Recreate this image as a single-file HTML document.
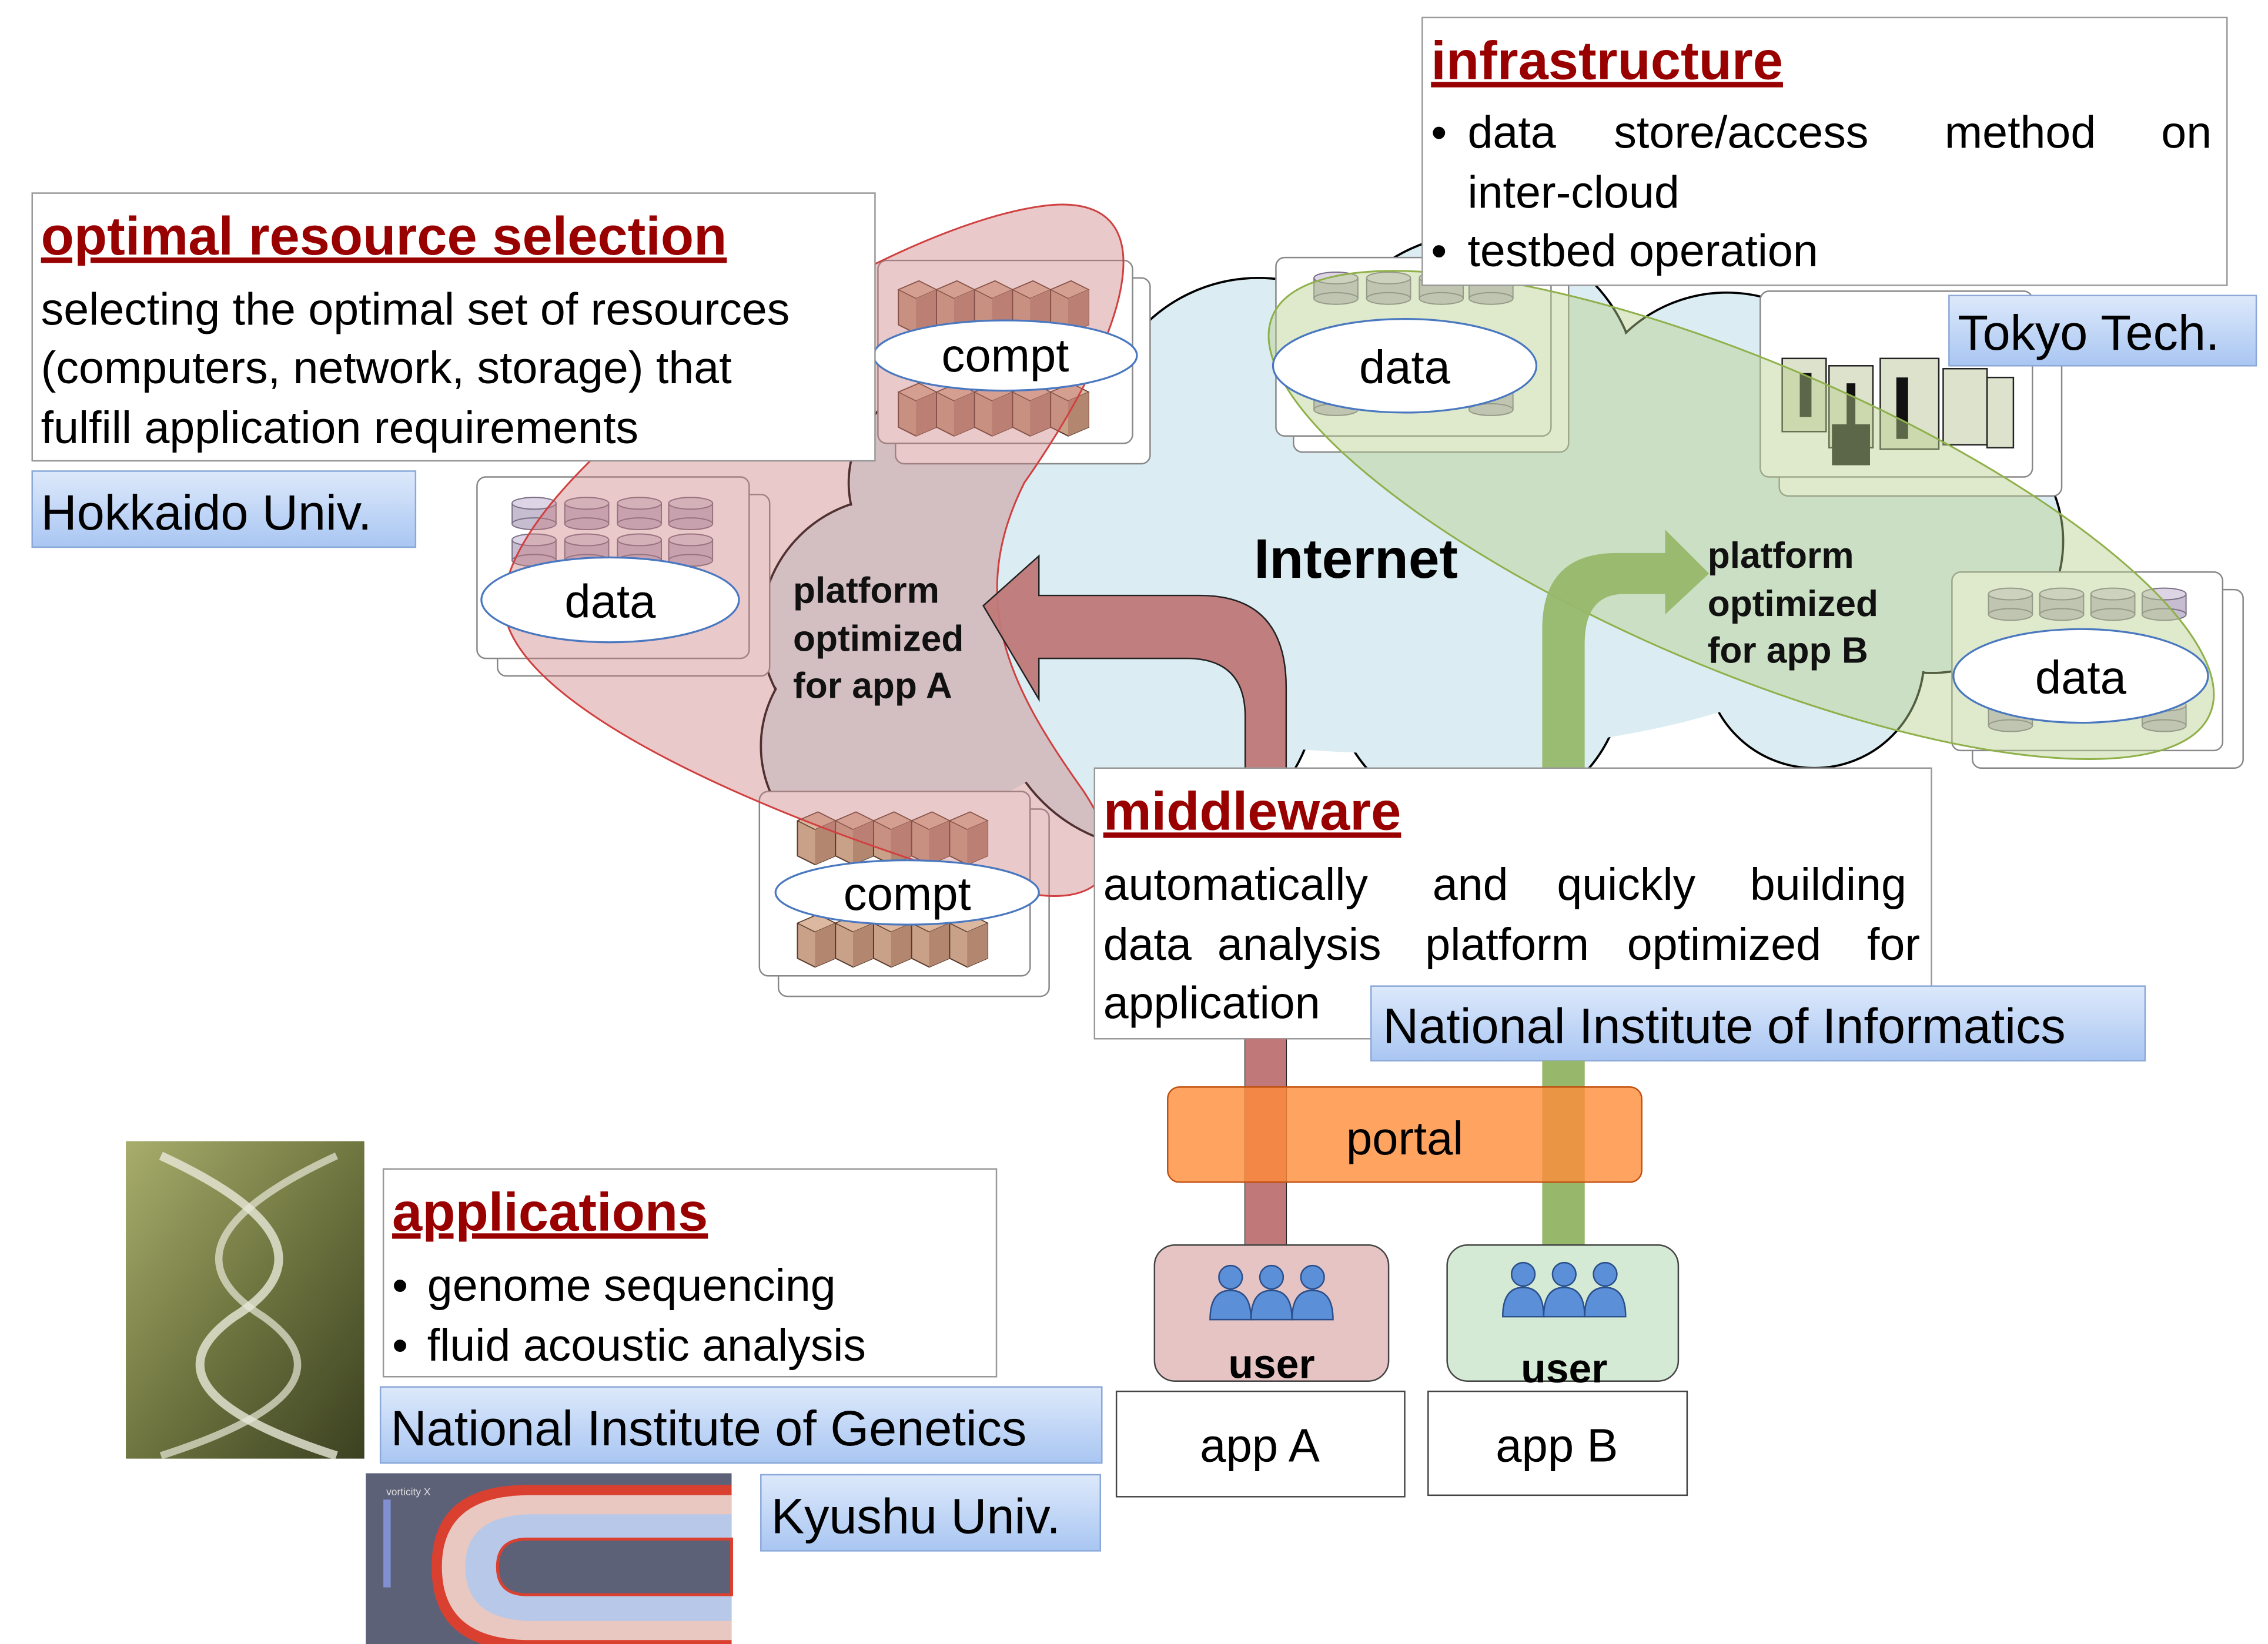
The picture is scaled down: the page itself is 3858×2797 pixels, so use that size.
<!DOCTYPE html>
<html><head><meta charset="utf-8"><style>
html,body{margin:0;padding:0;background:#fff}
svg{display:block}
text{font-family:"Liberation Sans",sans-serif}
</style></head><body>
<svg width="3858" height="2797" viewBox="0 0 1550 1123.7" preserveAspectRatio="none" xmlns="http://www.w3.org/2000/svg">
<defs>
<linearGradient id="lbl" x1="0" y1="0" x2="0" y2="1"><stop offset="0" stop-color="#dde9fb"/><stop offset="1" stop-color="#a9c6f2"/></linearGradient>
<linearGradient id="dna" x1="0" y1="0" x2="1" y2="1"><stop offset="0" stop-color="#a8ad6c"/><stop offset="0.5" stop-color="#6f7640"/><stop offset="1" stop-color="#3b4020"/></linearGradient>
<g id="srv"><path d="M0 6 L14 0 L26 6 L26 30 L12 36 L0 30Z" fill="#c9a088" stroke="#5a3a2a" stroke-width="0.8"/><path d="M0 6 L14 0 L26 6 L12 12Z" fill="#dcb8a0" stroke="#5a3a2a" stroke-width="0.6"/><path d="M12 12 L26 6 L26 30 L12 36Z" fill="#b38670"/></g>
<g id="cyl"><rect x="0" y="4" width="30" height="14" fill="#c7bdd0" stroke="#7a6f85" stroke-width="0.8"/><ellipse cx="15" cy="4" rx="15" ry="4" fill="#ddd5e5" stroke="#7a6f85" stroke-width="0.8"/><ellipse cx="15" cy="18" rx="15" ry="4" fill="#c7bdd0" stroke="#7a6f85" stroke-width="0.8"/></g>
</defs>

<!-- cloud -->
<g stroke="#000" stroke-width="1.5" fill="#dbedf2">
<circle cx="610" cy="430" r="90"/><circle cx="650" cy="330" r="70"/><circle cx="730" cy="320" r="100"/><circle cx="860" cy="300" r="110"/><circle cx="1010" cy="270" r="110"/><circle cx="1180" cy="300" r="100"/><circle cx="1320" cy="370" r="90"/><circle cx="1240" cy="450" r="75"/><circle cx="1010" cy="460" r="100"/><circle cx="790" cy="470" r="110"/><circle cx="600" cy="510" r="80"/>
</g>
<g fill="#dbedf2">
<circle cx="610" cy="430" r="89"/><circle cx="650" cy="330" r="69"/><circle cx="730" cy="320" r="99"/><circle cx="860" cy="300" r="109"/><circle cx="1010" cy="270" r="109"/><circle cx="1180" cy="300" r="99"/><circle cx="1320" cy="370" r="89"/><circle cx="1240" cy="450" r="74"/><circle cx="1010" cy="460" r="99"/><circle cx="790" cy="470" r="109"/><circle cx="600" cy="510" r="79"/>
<ellipse cx="960" cy="390" rx="340" ry="125"/><ellipse cx="650" cy="440" rx="100" ry="110"/>
</g>

<!-- server box top compt -->
<rect x="612" y="190" width="174" height="127" rx="6" fill="#fff" stroke="#888"/>
<rect x="600" y="178" width="174" height="125" rx="6" fill="#fff" stroke="#888"/>
<g><use href="#srv" x="614" y="192"/><use href="#srv" x="640" y="192"/><use href="#srv" x="666" y="192"/><use href="#srv" x="692" y="192"/><use href="#srv" x="718" y="192"/>
<use href="#srv" x="614" y="262"/><use href="#srv" x="640" y="262"/><use href="#srv" x="666" y="262"/><use href="#srv" x="692" y="262"/><use href="#srv" x="718" y="262"/></g>
<!-- data left -->
<rect x="340" y="338" width="186" height="124" rx="6" fill="#fff" stroke="#888"/>
<rect x="326" y="326" width="186" height="124" rx="6" fill="#fff" stroke="#888"/>
<g><use href="#cyl" x="350" y="340"/><use href="#cyl" x="386" y="340"/><use href="#cyl" x="422" y="340"/><use href="#cyl" x="457" y="340"/><use href="#cyl" x="350" y="365"/><use href="#cyl" x="386" y="365"/><use href="#cyl" x="422" y="365"/><use href="#cyl" x="457" y="365"/></g>
<!-- compt lower -->
<rect x="532" y="553" width="185" height="128" rx="6" fill="#fff" stroke="#888"/>
<rect x="519" y="541" width="185" height="126" rx="6" fill="#fff" stroke="#888"/>
<g><use href="#srv" x="545" y="555"/><use href="#srv" x="571" y="555"/><use href="#srv" x="597" y="555"/><use href="#srv" x="623" y="555"/><use href="#srv" x="649" y="555"/>
<use href="#srv" x="545" y="625"/><use href="#srv" x="571" y="625"/><use href="#srv" x="597" y="625"/><use href="#srv" x="623" y="625"/><use href="#srv" x="649" y="625"/></g>
<!-- data top -->
<rect x="884" y="186" width="188" height="123" rx="6" fill="#fff" stroke="#888"/>
<rect x="872" y="176" width="188" height="122" rx="6" fill="#fff" stroke="#888"/>
<g><use href="#cyl" x="898" y="186"/><use href="#cyl" x="934" y="186"/><use href="#cyl" x="970" y="186"/><use href="#cyl" x="1004" y="186"/><use href="#cyl" x="898" y="262"/><use href="#cyl" x="1004" y="262"/></g>
<!-- supercomputer box -->
<rect x="1216" y="212" width="193" height="127" rx="6" fill="#fff" stroke="#888"/>
<rect x="1203" y="199" width="186" height="127" rx="6" fill="#fff" stroke="#888"/>
<g fill="#dde2cc" stroke="#222"><rect x="1218" y="245" width="30" height="50"/><rect x="1250" y="250" width="30" height="56"/><rect x="1285" y="245" width="40" height="62"/><rect x="1328" y="252" width="30" height="52"/><rect x="1358" y="258" width="18" height="48"/></g>
<g fill="#111"><rect x="1230" y="255" width="8" height="30"/><rect x="1262" y="262" width="6" height="40"/><rect x="1296" y="258" width="8" height="42"/><rect x="1252" y="290" width="26" height="28"/></g>
<!-- data right -->
<rect x="1348" y="403" width="185" height="122" rx="6" fill="#fff" stroke="#888"/>
<rect x="1334" y="391" width="185" height="122" rx="6" fill="#fff" stroke="#888"/>
<g><use href="#cyl" x="1359" y="402"/><use href="#cyl" x="1394" y="402"/><use href="#cyl" x="1429" y="402"/><use href="#cyl" x="1464" y="402"/><use href="#cyl" x="1359" y="478"/><use href="#cyl" x="1464" y="478"/></g>

<!-- highlight shapes -->
<path d="M345 420 C 330 330 600 150 720 140 C 800 135 770 230 700 330 C 660 410 690 470 740 540 C 780 600 745 620 700 610 C 600 585 360 500 345 420 Z" fill="#c97878" fill-opacity="0.4" stroke="#d04040" stroke-width="1.2"/>
<ellipse cx="1190" cy="352" rx="348" ry="105" transform="rotate(23 1190 352)" fill="#b9cf8c" fill-opacity="0.45" stroke="#8fb04a" stroke-width="1.2"/>

<!-- labels ellipses -->
<g fill="#fff" stroke="#4a78c0" stroke-width="1.3">
<ellipse cx="687" cy="243" rx="90" ry="24"/><ellipse cx="417" cy="410" rx="88" ry="29"/><ellipse cx="620" cy="610" rx="90" ry="22"/><ellipse cx="960" cy="250" rx="90" ry="32"/><ellipse cx="1422" cy="462" rx="87" ry="32"/>
</g>
<g font-size="32" text-anchor="middle" fill="#000">
<text x="687" y="254">compt</text><text x="417" y="422">data</text><text x="620" y="622">compt</text><text x="960" y="262">data</text><text x="1422" y="474">data</text>
</g>

<!-- arrows -->
<path d="M851 852 L851 490 Q851 450 811 450 L710 450 L710 478 L672 414 L710 380 L710 407 L820 407 Q879 407 879 470 L879 852Z" fill="#c07878" fill-opacity="0.95" stroke="#222" stroke-width="1"/>
<path d="M1054 852 L1054 430 Q1054 378 1105 378 L1138 378 L1138 362 L1168 392 L1138 420 L1138 406 L1110 406 Q1083 406 1083 440 L1083 852Z" fill="#97b86a" fill-opacity="0.95"/>

<g font-size="38" font-weight="bold" fill="#000"><text x="857" y="395">Internet</text></g>
<g font-size="25" font-weight="bold" fill="#111">
<text x="542" y="412">platform</text><text x="542" y="445">optimized</text><text x="542" y="477">for app A</text>
<text x="1167" y="388">platform</text><text x="1167" y="421">optimized</text><text x="1167" y="453">for app B</text>
</g>

<!-- optimal resource selection -->
<rect x="22" y="132" width="576" height="183" fill="#fff" stroke="#999"/>
<text x="28" y="174" font-size="37" font-weight="bold" fill="#990000" text-decoration="underline">optimal resource selection</text>
<g font-size="31" fill="#000"><text x="28" y="222">selecting the optimal set of resources</text><text x="28" y="262">(computers, network, storage) that</text><text x="28" y="303">fulfill application requirements</text></g>
<rect x="22" y="322" width="262" height="52" fill="url(#lbl)" stroke="#8aa8d8"/>
<text x="28" y="362" font-size="34">Hokkaido Univ.</text>

<!-- infrastructure -->
<rect x="972" y="12" width="550" height="183" fill="#fff" stroke="#999"/>
<text x="978" y="54" font-size="37" font-weight="bold" fill="#990000" text-decoration="underline">infrastructure</text>
<g font-size="31" fill="#000"><text x="978" y="101">•</text><text x="1003" y="101">data</text><text x="1103" y="101">store/access</text><text x="1329" y="101">method</text><text x="1477" y="101">on</text><text x="1003" y="142">inter-cloud</text><text x="978" y="182">•</text><text x="1003" y="182">testbed operation</text></g>
<rect x="1332" y="202" width="210" height="48" fill="url(#lbl)" stroke="#8aa8d8"/>
<text x="1338" y="239" font-size="34">Tokyo Tech.</text>

<!-- middleware -->
<rect x="748" y="525" width="572" height="185" fill="#fff" stroke="#999"/>
<text x="754" y="567" font-size="37" font-weight="bold" fill="#990000" text-decoration="underline">middleware</text>
<g font-size="31" fill="#000"><text x="754" y="615">automatically</text><text x="979" y="615">and</text><text x="1064" y="615">quickly</text><text x="1196" y="615">building</text>
<text x="754" y="656">data</text><text x="832" y="656">analysis</text><text x="974" y="656">platform</text><text x="1112" y="656">optimized</text><text x="1276" y="656">for</text>
<text x="754" y="696">application</text></g>
<rect x="937" y="674" width="529" height="51" fill="url(#lbl)" stroke="#8aa8d8"/>
<text x="945" y="713" font-size="34">National Institute of Informatics</text>

<!-- stems under middleware -->
<rect x="851" y="710" width="28" height="142" fill="#c07878"/>
<rect x="1054" y="725" width="29" height="127" fill="#97b86a"/>

<!-- portal -->
<rect x="798" y="743" width="324" height="65" rx="8" fill="#ff8c3a" fill-opacity="0.8" stroke="#c05010"/>
<text x="960" y="789" font-size="32" text-anchor="middle">portal</text>

<!-- users -->
<rect x="789" y="851" width="160" height="93" rx="14" fill="#e6c4c4" stroke="#444"/>
<rect x="989" y="851" width="158" height="93" rx="14" fill="#d4ead4" stroke="#444"/>
<g fill="#5b8fd8" stroke="#2a4f8a">
<circle cx="841" cy="873" r="8"/><path d="M827 902 Q827 882 841 882 Q855 882 855 902Z"/>
<circle cx="869" cy="873" r="8"/><path d="M855 902 Q855 882 869 882 Q883 882 883 902Z"/>
<circle cx="897" cy="873" r="8"/><path d="M883 902 Q883 882 897 882 Q911 882 911 902Z"/>
<circle cx="1041" cy="871" r="8"/><path d="M1027 900 Q1027 880 1041 880 Q1055 880 1055 900Z"/>
<circle cx="1069" cy="871" r="8"/><path d="M1055 900 Q1055 880 1069 880 Q1083 880 1083 900Z"/>
<circle cx="1097" cy="871" r="8"/><path d="M1083 900 Q1083 880 1097 880 Q1111 880 1111 900Z"/>
</g>
<g font-size="28" font-weight="bold" text-anchor="middle"><text x="869" y="942">user</text><text x="1069" y="945">user</text></g>
<rect x="763" y="951" width="197" height="72" fill="#fff" stroke="#444"/>
<rect x="976" y="951" width="177" height="71" fill="#fff" stroke="#444"/>
<g font-size="32" text-anchor="middle"><text x="861" y="999">app A</text><text x="1064" y="999">app B</text></g>

<!-- applications -->
<rect x="86" y="780" width="163" height="217" fill="url(#dna)"/>
<path d="M110 790 Q240 850 160 900 Q90 950 230 995" stroke="#e8e8d8" stroke-width="6" fill="none" opacity="0.8"/>
<path d="M230 790 Q100 850 180 900 Q250 950 110 995" stroke="#e8e8d8" stroke-width="5" fill="none" opacity="0.7"/>
<rect x="262" y="799" width="419" height="142" fill="#fff" stroke="#999"/>
<text x="268" y="841" font-size="37" font-weight="bold" fill="#990000" text-decoration="underline">applications</text>
<g font-size="31"><text x="268" y="889">•</text><text x="292" y="889">genome sequencing</text><text x="268" y="930">•</text><text x="292" y="930">fluid acoustic analysis</text></g>
<rect x="260" y="948" width="493" height="52" fill="url(#lbl)" stroke="#8aa8d8"/>
<text x="267" y="988" font-size="34">National Institute of Genetics</text>
<rect x="520" y="1008" width="232" height="52" fill="url(#lbl)" stroke="#8aa8d8"/>
<text x="527" y="1048" font-size="34">Kyushu Univ.</text>

<!-- fluid image -->
<rect x="250" y="1007" width="250" height="128" fill="#5c6178"/>
<path d="M500 1015 L360 1015 Q295 1015 295 1071 Q295 1128 360 1128 L500 1128Z" fill="#d94030"/>
<path d="M500 1022 L362 1022 Q302 1022 302 1071 Q302 1121 362 1121 L500 1121Z" fill="#e8c8c0"/>
<path d="M500 1035 L365 1035 Q318 1035 318 1071 Q318 1108 365 1108 L500 1108Z" fill="#b8c8e8"/>
<path d="M500 1052 L360 1052 Q340 1052 340 1071 Q340 1090 360 1090 L500 1090Z" fill="#5c6178" stroke="#d94030" stroke-width="2"/>
<rect x="262" y="1025" width="5" height="60" fill="#8090d0"/>
<text x="262" y="1131" font-size="10" fill="#ddd">Time: 0.300</text>
<text x="264" y="1022" font-size="7" fill="#ddd">vorticity X</text>
</svg>
</body></html>
